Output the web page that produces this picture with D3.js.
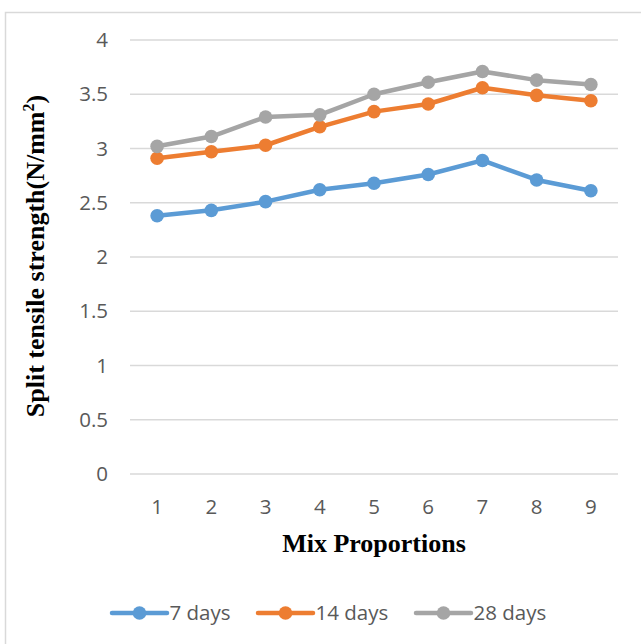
<!DOCTYPE html>
<html>
<head>
<meta charset="utf-8">
<script src="https://cdn.jsdelivr.net/npm/d3@7"></script>
<style>
  html, body { margin: 0; padding: 0; background: #fff; }
  svg { display: block; }
</style>
</head>
<body>
<svg id="chart" width="641" height="644"></svg>
<script>
// Mix proportion numbers along the x axis
const mixes = [1, 2, 3, 4, 5, 6, 7, 8, 9];

// Split tensile strength (N/mm²) per curing age
const days7  = [2.38, 2.43, 2.51, 2.62, 2.68, 2.76, 2.89, 2.71, 2.61];
const days14 = [2.91, 2.97, 3.03, 3.20, 3.34, 3.41, 3.56, 3.49, 3.44];
const days28 = [3.02, 3.11, 3.29, 3.31, 3.50, 3.61, 3.71, 3.63, 3.59];

const seriesNames = ["7 days", "14 days", "28 days"];
const yTicks = [0, 0.5, 1, 1.5, 2, 2.5, 3, 3.5, 4];

const colors = ["#5B9BD5", "#ED7D31", "#A5A5A5"];
const series = [days7, days14, days28].map((vals, i) => ({
  name: seriesNames[i], color: colors[i], values: vals
}));

const svg = d3.select("#chart");
const tickFont = "'Open Sans', sans-serif";
const tickSize = 20.5;
const titleFont = "'Liberation Serif', 'Times New Roman', serif";

// Chart area frame
svg.append("rect")
  .attr("x", 5.5).attr("y", 12.5)
  .attr("width", 700).attr("height", 700)
  .attr("fill", "#fff")
  .attr("stroke", "#d9d9d9").attr("stroke-width", 1.5);

const x = d3.scaleBand().domain(mixes).range([130, 618]);
const y = d3.scaleLinear().domain([0, 4]).range([474, 40]);
const cx = d => x(d) + x.bandwidth() / 2;

// Horizontal gridlines
svg.append("g").selectAll("line").data(yTicks).join("line")
  .attr("x1", 130).attr("x2", 618)
  .attr("y1", d => y(d)).attr("y2", d => y(d))
  .attr("stroke", "#d9d9d9").attr("stroke-width", 1.5);

// Y axis tick labels
svg.append("g").selectAll("text").data(yTicks).join("text")
  .attr("x", 108).attr("y", d => y(d))
  .attr("dy", "0.35em")
  .attr("text-anchor", "end")
  .attr("font-family", tickFont).attr("font-size", tickSize)
  .attr("fill", "#595959")
  .text(d => d);

// X axis tick labels
svg.append("g").selectAll("text").data(mixes).join("text")
  .attr("x", d => cx(d)).attr("y", 507)
  .attr("dy", "0.35em")
  .attr("text-anchor", "middle")
  .attr("font-family", tickFont).attr("font-size", tickSize)
  .attr("fill", "#595959")
  .text(d => d);

// Lines and markers
const line = d3.line()
  .x((v, i) => cx(mixes[i]))
  .y(v => y(v));

const g = svg.append("g");
series.forEach(s => {
  g.append("path")
    .attr("d", line(s.values))
    .attr("fill", "none")
    .attr("stroke", s.color)
    .attr("stroke-width", 4.5)
    .attr("stroke-linejoin", "round");
  g.selectAll(null).data(s.values).join("circle")
    .attr("cx", (v, i) => cx(mixes[i]))
    .attr("cy", v => y(v))
    .attr("r", 6.8)
    .attr("fill", s.color);
});

// Axis titles
const yTitle = svg.append("text")
  .attr("transform", "translate(44,256) rotate(-90)")
  .attr("text-anchor", "middle")
  .attr("font-family", titleFont).attr("font-size", 26)
  .attr("font-weight", "bold").attr("fill", "#000");
yTitle.append("tspan").text("Split tensile strength(N/mm");
yTitle.append("tspan").attr("font-size", 16).attr("dy", -10).text("2");
yTitle.append("tspan").attr("dy", 10).text(")");

svg.append("text")
  .attr("x", 374).attr("y", 552)
  .attr("text-anchor", "middle")
  .attr("font-family", titleFont).attr("font-size", 26)
  .attr("font-weight", "bold").attr("fill", "#000")
  .text("Mix Proportions");

// Legend
const legendX = [112, 258, 416];
const legend = svg.append("g").selectAll("g").data(series).join("g")
  .attr("transform", (d, i) => `translate(${legendX[i]},613)`);
legend.append("line")
  .attr("x1", 0).attr("x2", 55)
  .attr("stroke", d => d.color).attr("stroke-width", 4.5)
  .attr("stroke-linecap", "round");
legend.append("circle")
  .attr("cx", 27.5).attr("r", 6.8)
  .attr("fill", d => d.color);
legend.append("text")
  .attr("x", 57.5).attr("dy", "0.35em")
  .attr("font-family", tickFont).attr("font-size", tickSize)
  .attr("fill", "#595959")
  .text(d => d.name);
</script>
</body>
</html>
